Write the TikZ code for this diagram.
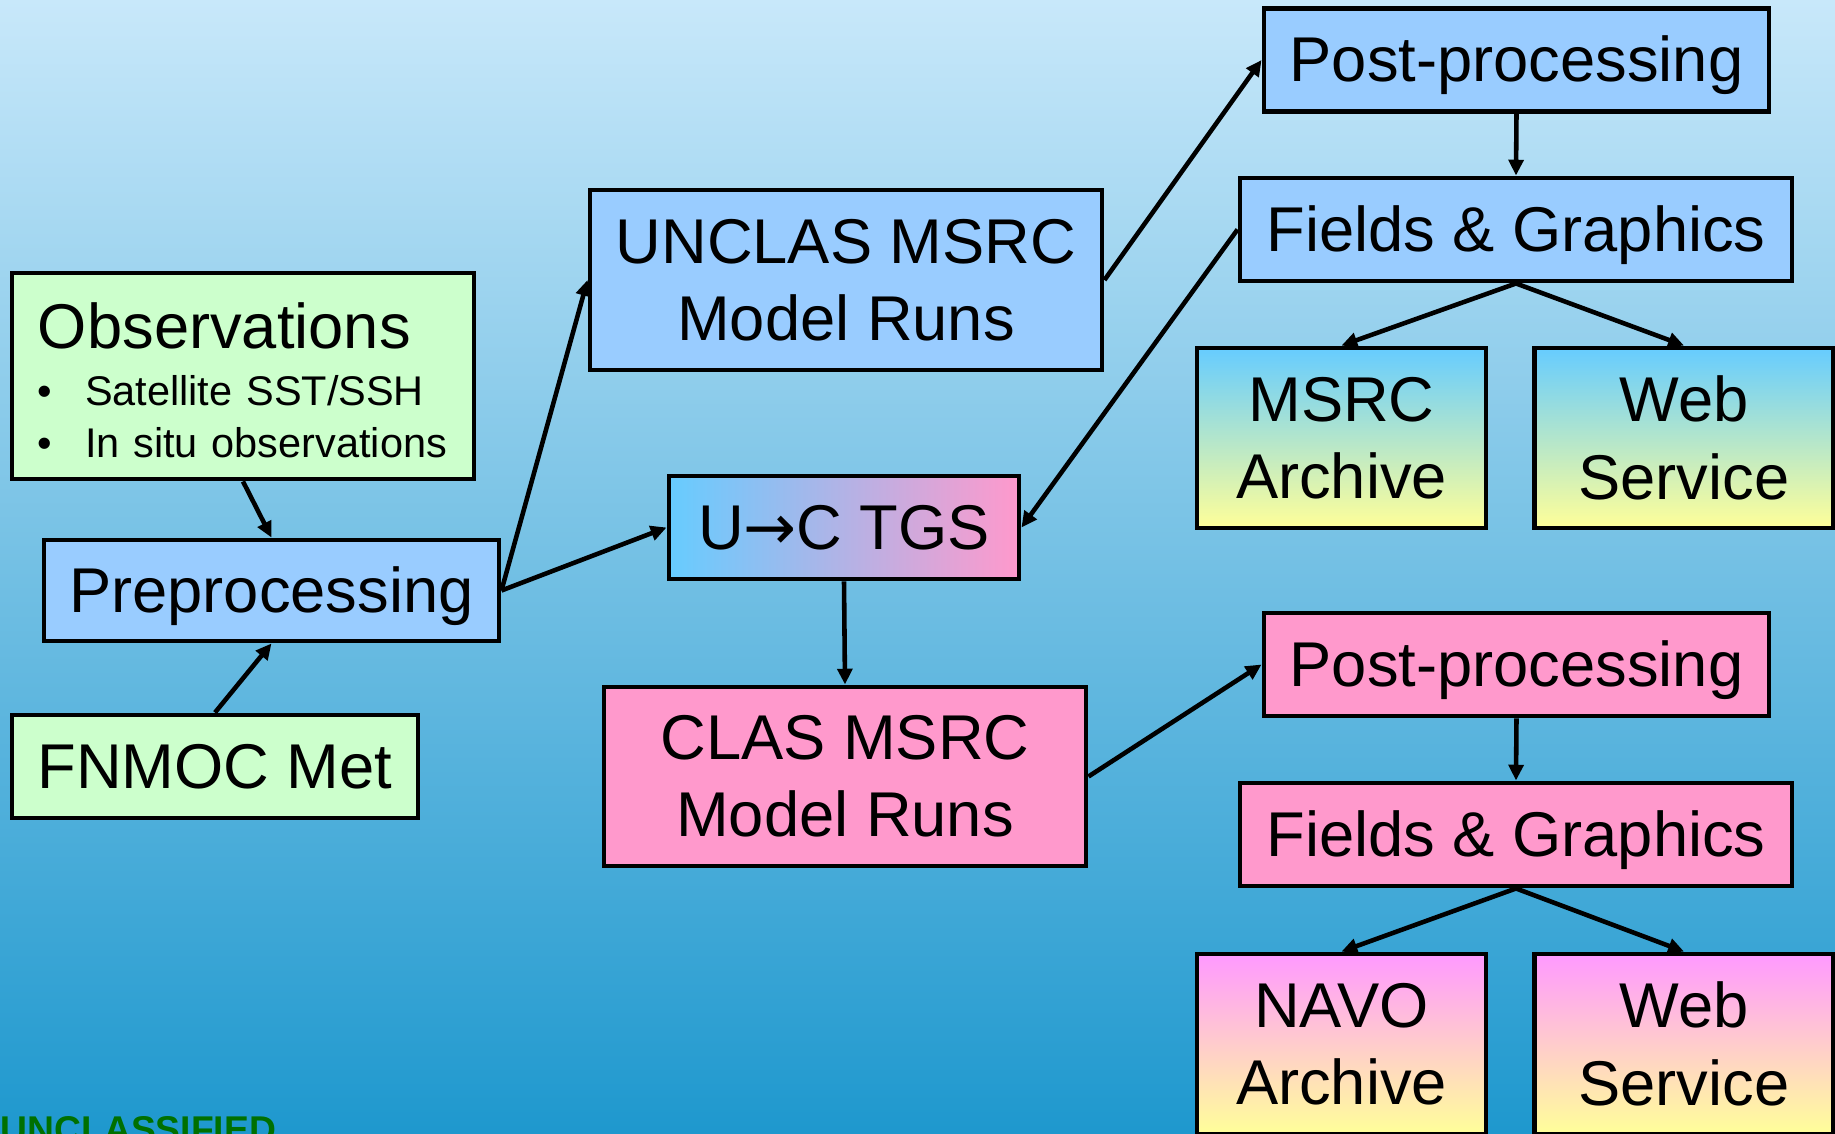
\documentclass[tikz,border=0pt]{standalone}
\usepackage{fontspec}
\setmainfont{Liberation Sans}
\newfontfamily\arrowfont{DejaVu Sans}
\usepackage{tikz}
\usetikzlibrary{
    arrows.meta,
    positioning
}
\tikzset{
  box/.style      = {draw=black, line width=1.4pt, inner sep=0pt, align=center,
                     font=\fontsize{18}{22}\selectfont},
  bluebox/.style  = {box, fill=boxBlue},
  greenbox/.style = {box, fill=boxGreen},
  pinkbox/.style  = {box, fill=boxPink},
  oneline/.style  = {text height=16.3pt, text depth=3.8pt},
  wide/.style     = {minimum width=5.05cm, minimum height=1.03cm},
  fields/.style   = {minimum width=5.52cm, minimum height=1.03cm},
  archive/.style  = {minimum width=2.89cm, minimum height=1.80cm},
  service/.style  = {minimum width=2.99cm, minimum height=1.80cm}
}
\definecolor{boxBlue}{RGB}{153,204,255}
\definecolor{boxGreen}{RGB}{204,255,204}
\definecolor{boxPink}{RGB}{255,153,204}
\definecolor{gradCyan}{RGB}{102,204,255}
\definecolor{gradYellow}{RGB}{255,255,153}
\definecolor{gradMagenta}{RGB}{255,153,255}
\definecolor{bgTop}{RGB}{200,232,250}
\definecolor{bgBot}{RGB}{30,152,206}
\definecolor{markGreen}{RGB}{0,112,0}

\begin{document}
\begin{tikzpicture}[
  arr/.style={-{Triangle[length=4.5pt, width=4.2pt]}, line width=1.3pt}]

  \useasboundingbox (0,0) rectangle (18.35,11.33);
  \clip (0,0) rectangle (18.35,11.33);
  \fill[top color=bgTop, bottom color=bgBot] (0,0) rectangle (18.35,11.33);

  % inputs
  \node[greenbox, minimum width=4.62cm, minimum height=2.06cm, text width=4.10cm,
        inner xsep=0.26cm, align=left, text height=15.5pt,
        font=\fontsize{11.8}{14.8}\selectfont] (obs) at (2.43,7.57)
    {\mbox{\fontsize{18}{22}\selectfont Observations}\\[1.4pt]
     \mbox{\makebox[13.4pt][l]{\textbullet}Satellite SST/SSH}\\
     \mbox{\makebox[13.4pt][l]{\textbullet}In situ observations}\par};
  \node[bluebox, oneline, minimum width=4.55cm, minimum height=1.01cm] (pre) at (2.715,5.425) {Preprocessing};
  \node[greenbox, oneline, minimum width=4.06cm, minimum height=1.03cm] (fnmoc) at (2.15,3.665) {FNMOC Met};

  % model runs
  \node[bluebox, minimum width=5.12cm, minimum height=1.80cm] (unclas) at (8.46,8.53) {UNCLAS MSRC\\Model Runs};
  \node[box, oneline, left color=gradCyan, right color=boxPink,
        minimum width=3.50cm, minimum height=1.03cm] (tgs) at (8.44,6.055) {U{\arrowfont →}C TGS};
  \node[pinkbox, minimum width=4.82cm, minimum height=1.79cm] (clas) at (8.45,3.565) {CLAS MSRC\\Model Runs};

  % unclassified products
  \node[bluebox, oneline, wide] (postA) at (15.165,10.73) {Post-processing};
  \node[bluebox, oneline, fields] (fieldsA) at (15.16,9.035) {Fields \& Graphics};
  \node[box, archive, top color=gradCyan, bottom color=gradYellow] (archA) at (13.415,6.95) {MSRC\\Archive};
  \node[box, service, top color=gradCyan, bottom color=gradYellow] (webA) at (16.84,6.95) {Web\\Service};

  % classified products
  \node[pinkbox, oneline, wide] (postB) at (15.165,4.685) {Post-processing};
  \node[pinkbox, oneline, fields] (fieldsB) at (15.16,2.985) {Fields \& Graphics};
  \node[box, archive, top color=gradMagenta, bottom color=gradYellow] (archB) at (13.415,0.89) {NAVO\\Archive};
  \node[box, service, top color=gradMagenta, bottom color=gradYellow] (webB) at (16.84,0.89) {Web\\Service};

  \node[anchor=base west, inner sep=0pt, text=markGreen,
        font=\bfseries\fontsize{10.6}{12}\selectfont] (mark) at (0,-0.09) {UNCLASSIFIED};

  \draw[arr] (obs.south)    -- (pre.north);
  \draw[arr] (fnmoc.north)  -- (pre.south);
  \draw[arr] (pre.east)     -- (unclas.west);
  \draw[arr] (pre.east)     -- (tgs.west);
  \draw[arr] (unclas.east)  -- (postA.west);
  \draw[arr] (fieldsA.west) -- (tgs.east);
  \draw[arr] (tgs.south)    -- (clas.north);
  \draw[arr] (clas.east)    -- (postB.west);

  \draw[arr] (postA.south)   -- (fieldsA.north);
  \draw[arr] (fieldsA.south) -- (archA.north);
  \draw[arr] (fieldsA.south) -- (webA.north);
  \draw[arr] (postB.south)   -- (fieldsB.north);
  \draw[arr] (fieldsB.south) -- (archB.north);
  \draw[arr] (fieldsB.south) -- (webB.north);
\end{tikzpicture}
\end{document}
